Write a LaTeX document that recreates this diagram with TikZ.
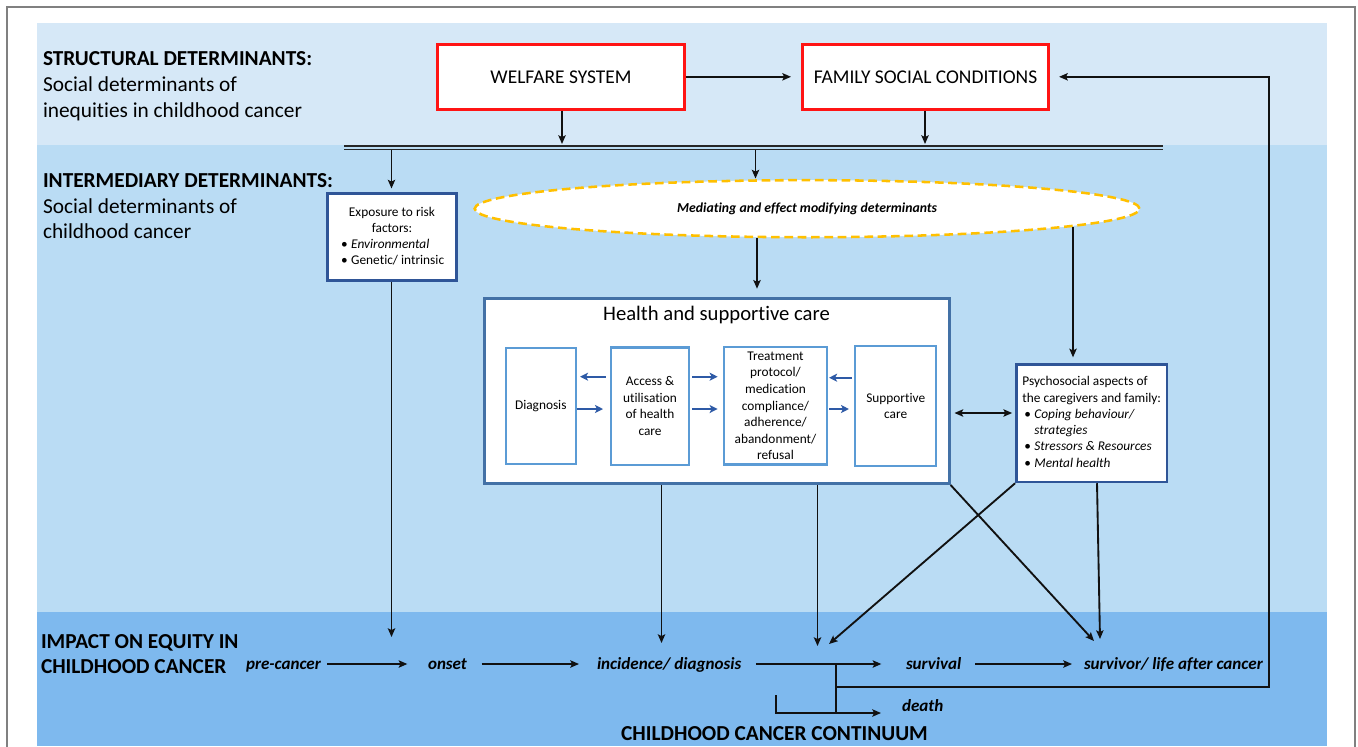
\documentclass[tikz,border=0pt]{standalone}
\usepackage{fontspec}
\setmainfont{Carlito}[Ligatures=NoCommon, RawFeature=-clig, RawFeature=-calt]
\usetikzlibrary{arrows.meta,shapes.geometric}
\definecolor{bandTop}{HTML}{D6E8F7}
\definecolor{bandMid}{HTML}{BADCF4}
\definecolor{bandBot}{HTML}{7EB9EE}
\definecolor{frameGray}{HTML}{808080}
\definecolor{boxRed}{HTML}{FF1414}
\definecolor{darkBlue}{HTML}{2F5597}
\definecolor{healthBlue}{HTML}{4371A6}
\definecolor{innerBlue}{HTML}{5B9BD5}
\definecolor{arrowBlue}{HTML}{2E5AA6}
\definecolor{dashOrange}{HTML}{FFC000}
\definecolor{lineBlack}{HTML}{111111}
\tikzset{
  txt/.style={inner sep=0pt, outer sep=0pt},
  head/.style={txt, font=\fontsize{16}{19.5}\selectfont\bfseries, anchor=base west},
  subhead/.style={txt, font=\fontsize{16}{19.5}\selectfont, anchor=base west},
  redbox/.style={draw=boxRed, line width=2.25pt, fill=white, minimum height=49pt, inner sep=0pt, font=\fontsize{14.6}{17}\selectfont},
  dbbox/.style={draw=darkBlue, line width=1.9pt, fill=white, inner sep=0pt},
  hbox/.style={draw=healthBlue, line width=2.2pt, fill=white, inner sep=0pt},
  ibox/.style={draw=innerBlue, line width=1.6pt, fill=white, inner sep=0pt, align=center, font=\fontsize{10}{12.4}\selectfont},
  arr/.style={draw=lineBlack, line width=1.4pt, -{Stealth[length=6.5pt,width=5.5pt,inset=1.3pt]}},
  arrboth/.style={draw=lineBlack, line width=1.4pt, {Stealth[length=6.5pt,width=5.5pt,inset=1.3pt]}-{Stealth[length=6.5pt,width=5.5pt,inset=1.3pt]}},
  barr/.style={draw=arrowBlue, line width=1.5pt, -{Stealth[length=6pt,width=6pt,inset=1.5pt]}},
  dline/.style={draw=black!85, line width=1pt},
  plainline/.style={draw=lineBlack, line width=1.4pt},
  rowtxt/.style={txt, font=\fontsize{12.8}{15}\selectfont\bfseries\itshape, anchor=base west},
}
\begin{document}
\begin{tikzpicture}[x=0.75pt,y=-0.75pt]
\useasboundingbox (0,0) rectangle (1358,746);
\fill[white] (0,0) rectangle (1358,746);
\fill[bandTop] (37,23) rectangle (1327,145);
\fill[bandMid] (37,145) rectangle (1327,612);
\fill[bandBot] (37,612) rectangle (1327,746);
\draw[frameGray, line width=1pt] (7,7) rectangle (1355,780);

% side headings
\node[head] (sdH) at (43,65.5) {STRUCTURAL DETERMINANTS:};
\node[subhead] (sdL1) at (43,91.5) {Social determinants of};
\node[subhead] (sdL2) at (43,117) {inequities in childhood cancer};
\node[head] (idH) at (43,187) {INTERMEDIARY DETERMINANTS:};
\node[subhead] (idL1) at (43,213) {Social determinants of};
\node[subhead] (idL2) at (43,238) {childhood cancer};
\node[head] (imH1) at (41,648) {IMPACT ON EQUITY IN};
\node[head] (imH2) at (41,673) {CHILDHOOD CANCER};
\node[head, anchor=base] (cont) at (774.5,740) {CHILDHOOD CANCER CONTINUUM};

% structural boxes
\node[redbox, minimum width=185pt] (welfare) at (561,76.8) {WELFARE SYSTEM};
\node[redbox, minimum width=184.5pt] (family) at (925.5,76.8) {FAMILY SOCIAL CONDITIONS};
\draw[arr, shorten >=7.5pt] (welfare) -- (family);

% double line
\coordinate (dlL) at (344,146); \coordinate (dlR) at (1163,146);
\coordinate (dlL2) at (344,149.5); \coordinate (dlR2) at (1163,149.5);
\draw[dline] (dlL) -- (dlR);
\draw[dline] (dlL2) -- (dlR2);
\coordinate (wd) at (562,144);
\coordinate (fd) at (925,144);
\draw[arr] (welfare.south -| wd) -- (wd);
\draw[arr] (family.south -| fd) -- (fd);

% exposure box
\node[dbbox, minimum width=96.75pt, minimum height=64.9pt, font=\fontsize{10}{12}\selectfont] (expo) at (392,237) {%
\begin{tabular}{@{}l@{}l@{}}
\multicolumn{2}{@{}c@{}}{Exposure to risk}\\
\multicolumn{2}{@{}c@{}}{factors:}\\
\makebox[8.5pt][l]{\hspace{1pt}\textbullet} & \textit{Environmental}\\
\makebox[8.5pt][l]{\hspace{1pt}\textbullet} & Genetic/ intrinsic
\end{tabular}};
\coordinate (e0) at (391.5,149.5);
\draw[arr, shorten >=3pt] (e0) -- (e0 |- expo.north);

% ellipse
\node[ellipse, draw=dashOrange, line width=1.9pt, dash pattern=on 6.5pt off 3.5pt, fill=white, minimum width=498.7pt, minimum height=42.8pt, inner sep=0pt, font=\fontsize{10.3}{12}\selectfont\bfseries\itshape] (medi) at (807.1,208.7) {Mediating and effect modifying determinants};
\coordinate (m0) at (755.5,149.5);
\coordinate (m0e) at (755.5,178.5);
\draw[arr] (m0) -- (m0e);

% health box
\node[hbox, minimum width=348.5pt, minimum height=138.5pt] (health) at (716.8,391.2) {};
\node[txt, font=\fontsize{15.5}{18}\selectfont] (htitle) at (716.5,315) {Health and supportive care};
\coordinate (m1) at (757,238);
\draw[arr, shorten >=6.5pt] (m1) -- (m1 |- health.north);

\node[ibox, minimum width=52.3pt, minimum height=87.2pt] (diag) at (540.8,405.8) {Diagnosis};
\node[ibox, minimum width=58.5pt, minimum height=88.1pt] (access) at (650,406.2) {Access \&\\utilisation\\of health\\care};
\node[ibox, minimum width=76.8pt, minimum height=88.1pt] (treat) at (775.5,405.8) {Treatment\\protocol/\\medication\\compliance/\\adherence/\\abandonment/\\refusal};
\node[ibox, minimum width=61pt, minimum height=89.8pt] (supp) at (895.7,405.8) {Supportive\\care};

\coordinate (ya) at (0,376.7);
\coordinate (yb) at (0,409);
\coordinate (yc) at (0,377.7);
\draw[barr, shorten <=3.2pt, shorten >=2.5pt] (access.west |- ya) -- (diag.east |- ya);
\draw[barr, shorten >=5.2pt] (diag.east |- yb) -- (access.west |- yb);
\draw[barr, shorten <=1.5pt, shorten >=4.2pt] (access.east |- ya) -- (treat.west |- ya);
\draw[barr, shorten <=1.5pt, shorten >=4.2pt] (access.east |- yb) -- (treat.west |- yb);
\draw[barr, shorten <=1.5pt, shorten >=1pt] (supp.west |- yc) -- (treat.east |- yc);
\draw[barr, shorten <=1pt, shorten >=3.75pt] (treat.east |- yb) -- (supp.west |- yb);

% psychosocial box
\node[dbbox, minimum width=113pt, minimum height=88pt, font=\fontsize{10}{12.2}\selectfont] (psych) at (1091.7,423.3) {%
\begin{tabular}{@{}l@{}l@{}}
\multicolumn{2}{@{}l@{}}{Psychosocial aspects of}\\
\multicolumn{2}{@{}l@{}}{the caregivers and family:}\\
\makebox[9pt][l]{\hspace{1.5pt}\textbullet} & \textit{Coping behaviour/}\\
 & \textit{strategies}\\
\makebox[9pt][l]{\hspace{1.5pt}\textbullet} & \textit{Stressors \& Resources}\\
\makebox[9pt][l]{\hspace{1.5pt}\textbullet} & \textit{Mental health}
\end{tabular}};
\coordinate (m2) at (1073,226.5);
\draw[arr, shorten >=4.5pt] (m2) -- (m2 |- psych.north);
\coordinate (hp) at (985,413);
\draw[arrboth, shorten <=2.9pt, shorten >=2.2pt] (health.east |- hp) -- (psych.west |- hp);

% bottom row
\node[rowtxt] (pre) at (246,669) {pre-cancer};
\node[rowtxt] (onset) at (428,669) {onset};
\node[rowtxt] (inc) at (597,669) {incidence/ diagnosis};
\node[rowtxt] (surv) at (906,669) {survival};
\node[rowtxt] (life) at (1084,669) {survivor/ life after cancer};
\node[rowtxt] (death) at (902,711.5) {death};

\coordinate (row) at (0,664);
\draw[arr, shorten <=5pt, shorten >=15.5pt] (pre.east |- row) -- (onset.west |- row);
\draw[arr, shorten <=11pt, shorten >=13.5pt] (onset.east |- row) -- (inc.west |- row);
\draw[arr, shorten <=11pt, shorten >=18.5pt] (inc.east |- row) -- (surv.west |- row);
\draw[arr, shorten <=10.5pt, shorten >=9pt] (surv.east |- row) -- (life.west |- row);

% arrows into the continuum
\coordinate (t1) at (391.5,637);
\draw[arr] (expo.south -| t1) -- (t1);
\coordinate (t2) at (661.5,643);
\draw[arr] (health.south -| t2) -- (t2);
\coordinate (t3) at (817.5,646);
\draw[arr] (health.south -| t3) -- (t3);
\coordinate (t4) at (1094,641);
\draw[arr] (health.south east) -- (t4);
\coordinate (t5) at (829,644);
\draw[arr] (psych.south west) -- (t5);
\coordinate (p6) at (1097,0);
\coordinate (t6) at (1100,639);
\draw[arr] (psych.south -| p6) -- (t6);

% branches
\coordinate (b0) at (836,664);
\coordinate (b1) at (836,713);
\draw[plainline] (b0) -- (b1);
\coordinate (c0) at (776,695);
\coordinate (c1) at (776,713);
\draw[arr, shorten >=15.75pt] (c0) -- (c1) -- (death.west |- c1);
\coordinate (f0) at (836,687);
\coordinate (f1) at (1269,687);
\coordinate (f2) at (1269,76.8);
\draw[arr, shorten >=6.8pt] (f0) -- (f1) -- (f2) -- (family.east);
\end{tikzpicture}
\end{document}
